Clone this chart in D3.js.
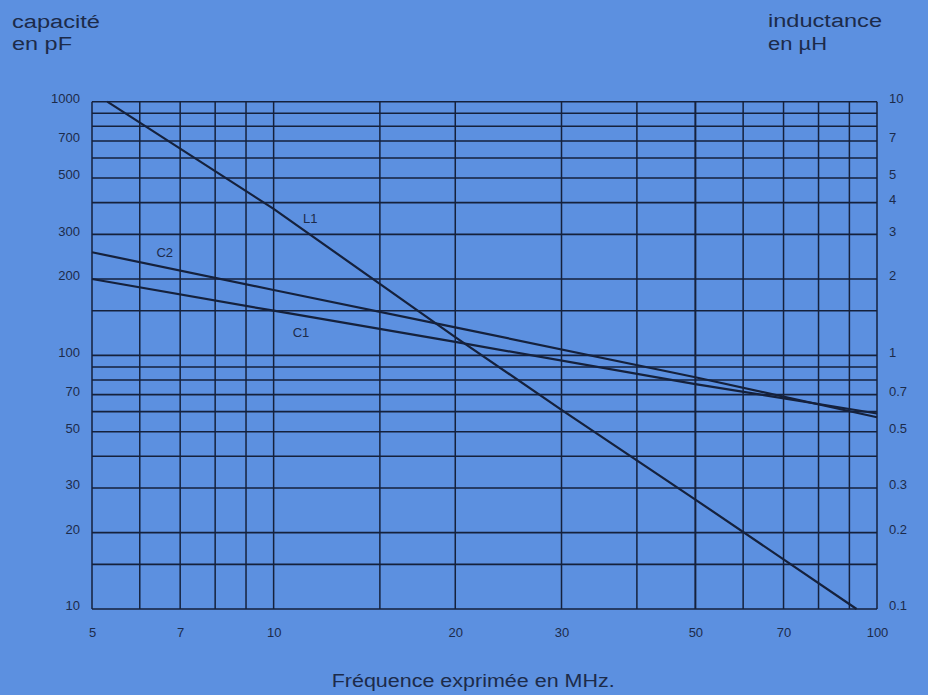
<!DOCTYPE html>
<html><head><meta charset="utf-8">
<script src="https://cdn.jsdelivr.net/npm/d3@7"></script>
<style>
html,body{margin:0;padding:0;background:#5c90e0;}
svg{display:block;}
</style></head>
<body>
<svg id="chart" width="928" height="695"></svg>
<script>
// ---- data ----
const freqTicks = [5, 7, 10, 20, 30, 50, 70, 100];
const freqGrid = [5, 6, 7, 8, 9, 10, 15, 20, 30, 40, 50, 60, 70, 80, 90, 100];
const capTicks = [1000, 700, 500, 300, 200, 100, 70, 50, 30, 20, 10];
const capGrid = [1000, 900, 800, 700, 600, 500, 400, 300, 200, 150, 100, 90, 80, 70, 60, 50, 40, 30, 20, 15, 10];
const indTicks = [10, 7, 5, 4, 3, 2, 1, 0.7, 0.5, 0.3, 0.2, 0.1];

const l1Freq = [5.3, 10, 20, 30, 50, 70, 92.5];
const l1Ind  = [10, 3.78, 1.18, 0.61, 0.27, 0.157, 0.1];
const c1Freq = [5, 10, 20, 50, 100];
const c1Cap  = [200, 150, 113, 77, 59];
const c2Freq = [5, 10, 20, 50, 100];
const c2Cap  = [255, 181, 129, 82, 57];

// ---- layout ----
const svg = d3.select("#chart");
const W = 928, H = 695;
const mLeft = 92, mRight = 877, mTop = 101.7, mBottom = 609;
const ink = "#15213c";
const textInk = "#1c2b4a";

svg.append("rect").attr("width", W).attr("height", H).attr("fill", "#5c90e0");

const x = d3.scaleLog().domain([5, 100]).range([mLeft, mRight]);
const yC = d3.scaleLog().domain([10, 1000]).range([mBottom, mTop]);
const yL = d3.scaleLog().domain([0.1, 10]).range([mBottom, mTop]);

// grid
const g = svg.append("g");
g.selectAll("line.h").data(capGrid).join("line").attr("class", "h")
  .attr("x1", mLeft).attr("x2", mRight)
  .attr("y1", d => yC(d)).attr("y2", d => yC(d))
  .attr("stroke", ink).attr("stroke-width", 1.6);
g.selectAll("line.v").data(freqGrid).join("line").attr("class", "v")
  .attr("y1", mTop).attr("y2", mBottom)
  .attr("x1", d => x(d)).attr("x2", d => x(d))
  .attr("stroke", ink).attr("stroke-width", d => d === 50 ? 2 : 1.5);

// curves
const lineC = d3.line().x(d => x(d[0])).y(d => yC(d[1]));
const lineL = d3.line().x(d => x(d[0])).y(d => yL(d[1]));
svg.append("path").attr("d", lineL(d3.zip(l1Freq, l1Ind)))
  .attr("fill", "none").attr("stroke", ink).attr("stroke-width", 2.2);
svg.append("path").attr("d", lineC(d3.zip(c1Freq, c1Cap)))
  .attr("fill", "none").attr("stroke", ink).attr("stroke-width", 2.2);
svg.append("path").attr("d", lineC(d3.zip(c2Freq, c2Cap)))
  .attr("fill", "none").attr("stroke", ink).attr("stroke-width", 2.2);

// axes labels
const tickFont = "'Liberation Sans', Arial, sans-serif";
const fmt = d => String(d);
const leftAxis = d3.axisLeft(yC).tickValues(capTicks).tickFormat(fmt).tickSize(0).tickPadding(12);
const rightAxis = d3.axisRight(yL).tickValues(indTicks).tickFormat(fmt).tickSize(0).tickPadding(12);
const botAxis = d3.axisBottom(x).tickValues(freqTicks).tickFormat(fmt).tickSize(0).tickPadding(19);

function styleAxis(sel) {
  sel.select(".domain").remove();
  sel.selectAll("text").attr("font-family", tickFont).attr("font-size", 13).attr("fill", textInk);
}
svg.append("g").attr("transform", `translate(${mLeft},-3.5)`).call(leftAxis).call(styleAxis);
svg.append("g").attr("transform", `translate(${mRight},-3.5)`).call(rightAxis).call(styleAxis);
svg.append("g").attr("transform", `translate(0,${mBottom})`).call(botAxis).call(styleAxis);

// curve labels
const lab = svg.append("g").attr("font-family", tickFont).attr("font-size", 13).attr("fill", textInk).attr("text-anchor", "middle");
lab.append("text").attr("x", x(11.5)).attr("y", yL(3.45)).attr("dy", "0.35em").text("L1");
lab.append("text").attr("x", x(6.6)).attr("y", yC(255)).attr("dy", "0.35em").text("C2");
lab.append("text").attr("x", x(11.1)).attr("y", yC(123)).attr("dy", "0.35em").text("C1");

// titles
const titleFont = "'Liberation Sans', Arial, Helvetica, sans-serif";
const t = svg.append("g").attr("font-family", titleFont).attr("font-size", 18).attr("fill", textInk);
t.append("text").attr("x", 12).attr("y", 28).attr("textLength", 88).attr("lengthAdjust", "spacingAndGlyphs").text("capacité");
t.append("text").attr("x", 12).attr("y", 50).attr("textLength", 60).attr("lengthAdjust", "spacingAndGlyphs").text("en pF");
t.append("text").attr("x", 768).attr("y", 27).attr("textLength", 114).attr("lengthAdjust", "spacingAndGlyphs").text("inductance");
t.append("text").attr("x", 768).attr("y", 50).attr("textLength", 59).attr("lengthAdjust", "spacingAndGlyphs").text("en µH");
t.append("text").attr("x", 331.7).attr("y", 687).attr("textLength", 283).attr("lengthAdjust", "spacingAndGlyphs").text("Fréquence exprimée en MHz.");
</script>
</body></html>
